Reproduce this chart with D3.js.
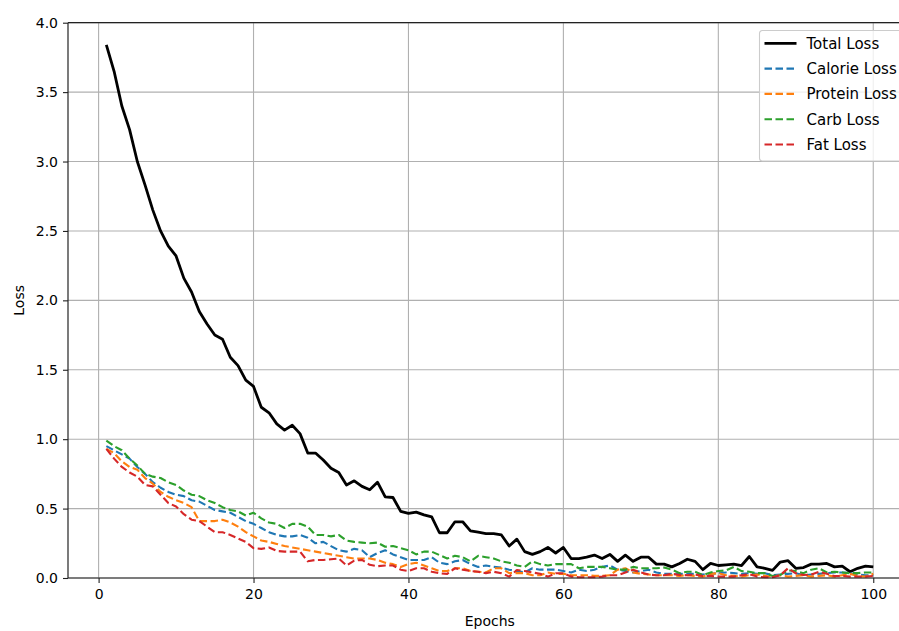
<!DOCTYPE html>
<html>
<head>
<meta charset="utf-8">
<script src="https://cdn.jsdelivr.net/npm/d3@7"></script>
<style>
body { margin: 0; background: #fff; }
text { font-family: "DejaVu Sans", sans-serif; fill: #000; }
</style>
</head>
<body>
<script>
// losses per epoch
var epochs = d3.range(1, 101);

var totalLoss = [3.84,3.65,3.40,3.23,3.00,2.83,2.65,2.50,2.39,2.32,
  2.16,2.06,1.92,1.83,1.75,1.72,1.59,1.53,1.425,1.38,
  1.23,1.19,1.11,1.065,1.10,1.04,0.90,0.90,0.85,0.79,
  0.76,0.67,0.70,0.66,0.635,0.69,0.585,0.58,0.48,0.465,
  0.475,0.455,0.44,0.326,0.326,0.405,0.405,0.34,0.33,0.32,
  0.32,0.31,0.23,0.28,0.19,0.17,0.19,0.22,0.18,0.22,
  0.14,0.14,0.15,0.165,0.14,0.17,0.12,0.165,0.12,0.15,
  0.15,0.10,0.10,0.08,0.105,0.135,0.12,0.06,0.105,0.09,
  0.095,0.10,0.09,0.155,0.08,0.07,0.055,0.115,0.125,0.07,
  0.075,0.10,0.10,0.105,0.08,0.085,0.045,0.07,0.085,0.08];

var calorieLoss = [0.95,0.92,0.89,0.86,0.80,0.75,0.69,0.65,0.62,0.60,
  0.59,0.56,0.55,0.52,0.49,0.48,0.47,0.44,0.41,0.39,
  0.36,0.33,0.31,0.30,0.30,0.31,0.29,0.25,0.26,0.23,
  0.20,0.19,0.21,0.20,0.15,0.18,0.20,0.17,0.15,0.13,
  0.13,0.13,0.15,0.11,0.10,0.12,0.13,0.10,0.08,0.09,
  0.08,0.075,0.06,0.05,0.04,0.07,0.06,0.06,0.06,0.05,
  0.04,0.06,0.05,0.06,0.08,0.09,0.06,0.05,0.04,0.05,
  0.06,0.04,0.03,0.03,0.03,0.03,0.03,0.025,0.03,0.035,
  0.04,0.035,0.03,0.035,0.03,0.035,0.02,0.025,0.03,0.035,
  0.02,0.025,0.03,0.035,0.04,0.04,0.035,0.025,0.02,0.02];

var proteinLoss = [0.93,0.90,0.84,0.80,0.78,0.72,0.68,0.62,0.585,0.56,
  0.54,0.51,0.41,0.41,0.41,0.42,0.40,0.37,0.33,0.30,
  0.27,0.26,0.245,0.23,0.22,0.21,0.20,0.19,0.18,0.17,
  0.16,0.15,0.14,0.14,0.14,0.13,0.11,0.10,0.08,0.10,
  0.11,0.09,0.07,0.05,0.05,0.07,0.07,0.05,0.045,0.04,
  0.07,0.07,0.035,0.035,0.035,0.02,0.02,0.04,0.03,0.03,
  0.02,0.02,0.02,0.015,0.015,0.02,0.06,0.07,0.04,0.03,
  0.025,0.02,0.02,0.02,0.015,0.02,0.015,0.01,0.03,0.035,
  0.02,0.015,0.01,0.02,0.025,0.015,0.01,0.02,0.01,0.015,
  0.02,0.01,0.015,0.02,0.01,0.02,0.03,0.015,0.01,0.03];

var carbLoss = [0.99,0.95,0.92,0.86,0.81,0.75,0.73,0.72,0.69,0.67,
  0.63,0.60,0.59,0.56,0.54,0.51,0.49,0.48,0.45,0.47,
  0.43,0.40,0.39,0.36,0.39,0.39,0.37,0.31,0.31,0.30,
  0.31,0.27,0.26,0.255,0.25,0.255,0.225,0.23,0.215,0.20,
  0.17,0.19,0.19,0.165,0.14,0.16,0.15,0.12,0.16,0.15,
  0.14,0.12,0.11,0.09,0.08,0.12,0.10,0.09,0.10,0.10,
  0.10,0.07,0.08,0.08,0.08,0.07,0.06,0.06,0.08,0.07,
  0.07,0.07,0.075,0.06,0.035,0.045,0.045,0.022,0.04,0.05,
  0.055,0.08,0.05,0.045,0.035,0.035,0.015,0.022,0.055,0.05,
  0.035,0.06,0.07,0.04,0.045,0.04,0.035,0.035,0.04,0.04];

var fatLoss = [0.93,0.86,0.80,0.76,0.73,0.67,0.66,0.60,0.54,0.515,
  0.46,0.42,0.41,0.37,0.33,0.33,0.31,0.285,0.26,0.215,
  0.21,0.22,0.195,0.19,0.19,0.19,0.12,0.13,0.13,0.135,
  0.14,0.09,0.125,0.13,0.095,0.085,0.09,0.09,0.06,0.05,
  0.07,0.07,0.045,0.034,0.03,0.07,0.06,0.05,0.045,0.035,
  0.045,0.034,0.01,0.058,0.05,0.04,0.03,0.01,0.034,0.034,
  0.01,0.005,0.005,0.005,0.01,0.02,0.02,0.04,0.06,0.04,
  0.025,0.02,0.02,0.03,0.022,0.02,0.025,0.014,0.015,0.01,
  0.01,0.01,0.02,0.027,0.01,0.005,0.005,0.02,0.07,0.034,
  0.022,0.025,0.045,0.03,0.014,0.015,0.01,0.01,0.01,0.015];

var seriesNames = ["Total Loss", "Calorie Loss", "Protein Loss", "Carb Loss", "Fat Loss"];
var seriesValues = [totalLoss, calorieLoss, proteinLoss, carbLoss, fatLoss];
var seriesColors = ["#000000", "#1f77b4", "#ff7f0e", "#2ca02c", "#d62728"];

var xTicks = [0, 20, 40, 60, 80, 100];
var yTicks = [0, 0.5, 1.0, 1.5, 2.0, 2.5, 3.0, 3.5, 4.0];

var W = 899, H = 631;
var plotLeft = 68, plotRight = 911.6, plotTop = 22.7, plotBottom = 578;

var svg = d3.select("body").append("svg").attr("width", W).attr("height", H);

var x = d3.scaleLinear().domain([-3.95, 104.95]).range([plotLeft, plotRight]);
var y = d3.scaleLinear().domain([0, 4]).range([plotBottom, plotTop]);

var plot = svg.append("g");

// grid
plot.selectAll("line.vgrid").data(xTicks).enter().append("line")
  .attr("x1", function(d) { return x(d); }).attr("x2", function(d) { return x(d); })
  .attr("y1", plotTop).attr("y2", plotBottom)
  .attr("stroke", "#b0b0b0").attr("stroke-width", 1.1);
plot.selectAll("line.hgrid").data(yTicks).enter().append("line")
  .attr("x1", plotLeft).attr("x2", plotRight)
  .attr("y1", function(d) { return y(d); }).attr("y2", function(d) { return y(d); })
  .attr("stroke", "#b0b0b0").attr("stroke-width", 1.1);

// series lines
var line = d3.line()
  .x(function(d, i) { return x(epochs[i]); })
  .y(function(d) { return y(d); });

for (var p = 0; p < seriesValues.length; p++) {
  plot.append("path")
    .attr("fill", "none")
    .attr("stroke", seriesColors[p])
    .attr("stroke-width", p == 0 ? 2.8 : 2.1)
    .attr("stroke-dasharray", p == 0 ? null : "7.5,3.5")
    .attr("stroke-linejoin", "round")
    .attr("d", line(seriesValues[p]));
}

// axes
var xAxis = d3.axisBottom(x).tickValues(xTicks).tickFormat(d3.format("d")).tickSizeInner(5).tickSizeOuter(0).tickPadding(5);
var yAxis = d3.axisLeft(y).tickValues(yTicks).tickFormat(d3.format(".1f")).tickSizeInner(5).tickSizeOuter(0).tickPadding(5);

var gx = svg.append("g").attr("transform", "translate(0," + plotBottom + ")").call(xAxis);
var gy = svg.append("g").attr("transform", "translate(" + plotLeft + ",0)").call(yAxis);
[gx, gy].forEach(function(g) {
  g.select(".domain").remove();
  g.selectAll(".tick line").attr("stroke", "#222").attr("stroke-width", 1.1);
  g.selectAll(".tick text").attr("font-size", 14).attr("font-family", "DejaVu Sans").attr("fill", "#222");
});
gx.selectAll(".tick text").attr("dy", "0.8em");

// spines
svg.append("line").attr("x1", plotLeft).attr("x2", plotRight).attr("y1", plotBottom).attr("y2", plotBottom)
  .attr("stroke", "#222").attr("stroke-width", 1.2);
svg.append("line").attr("x1", plotLeft).attr("x2", plotRight).attr("y1", plotTop).attr("y2", plotTop)
  .attr("stroke", "#222").attr("stroke-width", 1.2);
svg.append("line").attr("x1", plotLeft).attr("x2", plotLeft).attr("y1", plotTop).attr("y2", plotBottom)
  .attr("stroke", "#222").attr("stroke-width", 1.2);

// axis labels
svg.append("text").attr("x", (plotLeft + plotRight) / 2).attr("y", 626)
  .attr("text-anchor", "middle").attr("font-size", 14).attr("fill", "#222").text("Epochs");
svg.append("text").attr("transform", "translate(24," + ((plotTop + plotBottom) / 2) + ") rotate(-90)")
  .attr("text-anchor", "middle").attr("font-size", 14).attr("fill", "#222").text("Loss");

// legend
var legend = svg.append("g").attr("transform", "translate(759.5,30.5)");
legend.append("rect").attr("width", 165).attr("height", 130.5).attr("rx", 3)
  .attr("fill", "#fff").attr("fill-opacity", 0.8).attr("stroke", "#cccccc").attr("stroke-width", 1.1);

var rows = legend.selectAll("g.row").data(seriesNames).enter().append("g")
  .attr("transform", function(d, i) { return "translate(0," + (12.8 + i * 25.3) + ")"; });
rows.append("line")
  .attr("x1", 5).attr("x2", 37).attr("y1", 0).attr("y2", 0)
  .attr("stroke", function(d, i) { return seriesColors[i]; })
  .attr("stroke-width", function(d, i) { return i == 0 ? 2.8 : 2.1; })
  .attr("stroke-dasharray", function(d, i) { return i == 0 ? null : "7.5,3.5"; });
rows.append("text")
  .attr("x", 47).attr("y", 0).attr("dy", "0.36em")
  .attr("font-size", 15).attr("fill", "#222")
  .text(function(d) { return d; });
</script>
</body>
</html>
